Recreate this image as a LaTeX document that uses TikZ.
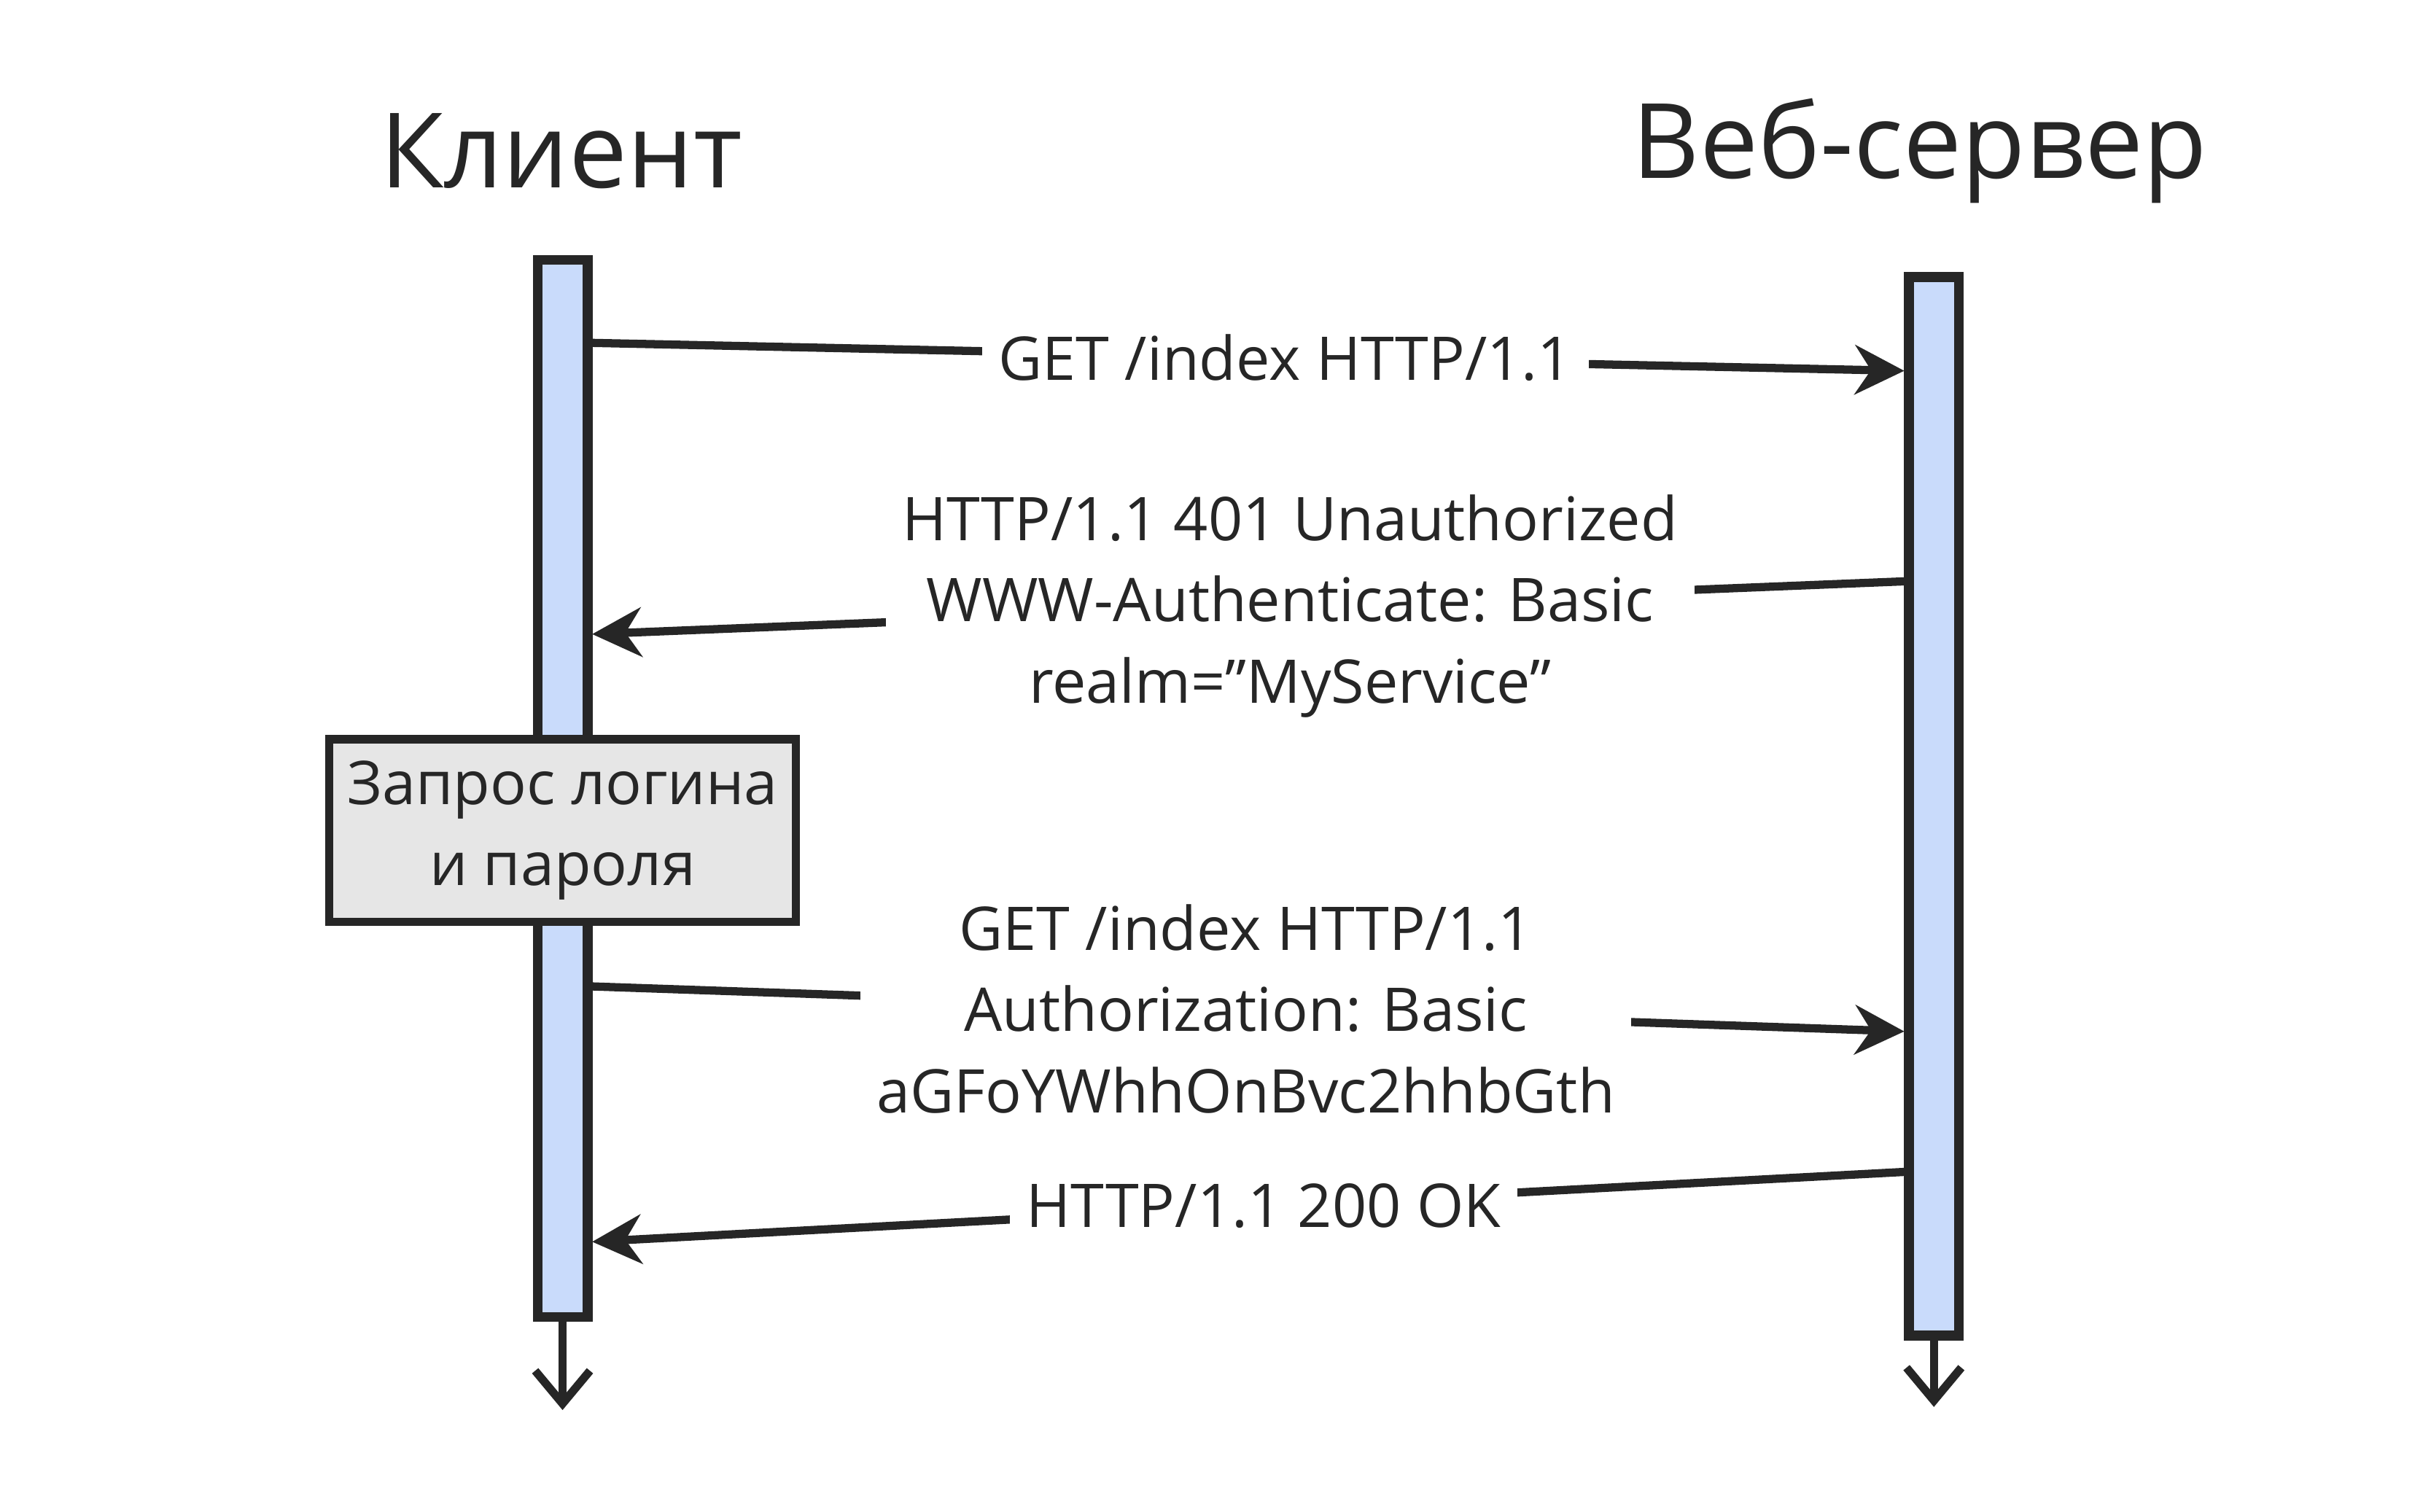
\documentclass[tikz,border=0pt]{standalone}
\usepackage{fontspec}
\setmainfont{Open Sans}
\usetikzlibrary{arrows.meta}
\definecolor{barblue}{HTML}{C9DBFB}
\definecolor{boxgray}{HTML}{E6E6E6}
\definecolor{ink}{HTML}{262626}
\tikzset{
  bar/.style={rectangle, draw=ink, line width=1.8pt, fill=barblue, minimum width=0.32cm, inner sep=0pt},
  msg/.style={draw=ink, line width=1.5pt, -{Stealth[length=9pt,width=9pt]}},
  life/.style={draw=ink, line width=1.5pt, -{Straight Barb[length=6pt,width=10pt,line width=1.5pt]}},
  lbl/.style={fill=white, text=ink, font=\fontsize{11}{14.8}\selectfont, align=center, inner sep=3pt},
  title/.style={text=ink, font=\fontsize{19}{22}\selectfont},
  note/.style={rectangle, draw=ink, line width=1.5pt, fill=boxgray, text=ink, minimum width=2.98cm, minimum height=1.17cm, align=center, font=\fontsize{11}{14.8}\selectfont}
}
\begin{document}
\begin{tikzpicture}[x=0.01cm,y=-0.01cm]
	\useasboundingbox (0,0) rectangle (1560,970);

	% Titles
	\node[title] (client) at (360,97) {Клиент};
	\node[title] (server) at (1232,97) {Веб-сервер};

	% Lifelines
	\node[bar, minimum height=6.78cm] (cbar) at (361,506) {};
	\node[bar, minimum height=6.79cm] (sbar) at (1241,517.5) {};
	\coordinate (cend) at (361,905);
	\coordinate (send) at (1241,903);
	\draw[life] (cbar.south) -- (cend);
	\draw[life] (sbar.south) -- (send);

	% Note
	\node[note] (ask) at (361,533) {Запрос логина\\и пароля};

	% Anchors on the bars
	\coordinate (c1) at (377,220);
	\coordinate (s1) at (1222,238);
	\coordinate (s2) at (1225,373);
	\coordinate (c2) at (380,407);
	\coordinate (c3) at (377,633);
	\coordinate (s3) at (1222,662);
	\coordinate (s4) at (1225,752);
	\coordinate (c4) at (380,797);

	% Messages
	\draw[msg] (c1) -- node[lbl, pos=0.53] {GET /index HTTP/1.1} (s1);
	\draw[msg] (s2) -- node[lbl, pos=0.47] {HTTP/1.1 401 Unauthorized\\WWW-Authenticate: Basic\\realm="MyService"} (c2);
	\draw[msg] (c3) -- node[lbl, pos=0.5] {GET /index HTTP/1.1\\Authorization: Basic\\aGFoYWhhOnBvc2hhbGth} (s3);
	\draw[msg] (s4) -- node[lbl, pos=0.49] {HTTP/1.1 200 OK} (c4);

\end{tikzpicture}
\end{document}
